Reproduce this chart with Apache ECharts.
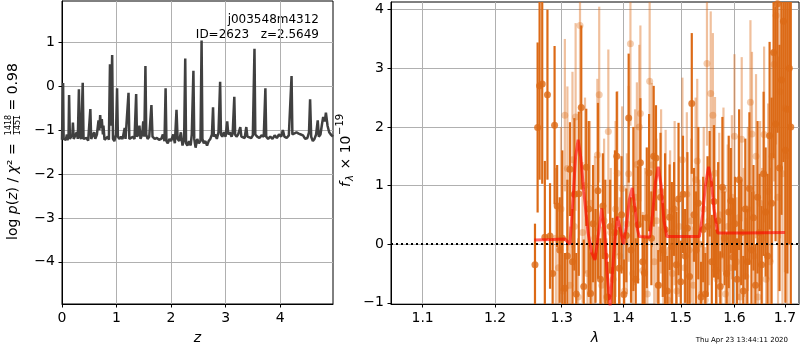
<!DOCTYPE html>
<html>
<head>
<meta charset="utf-8">
<script src="https://cdn.jsdelivr.net/npm/echarts@6/dist/echarts.min.js"></script>
<style>
  html, body { margin: 0; padding: 0; background: #fff; }
  #chart { width: 800px; height: 350px; }
</style>
</head>
<body>
<div id="chart"></div>
<script>
// ---- data ----
const zTicks = [0, 1, 2, 3, 4];
const pzTicks = [-4, -3, -2, -1, 0, 1];
const waveTicks = [1.1, 1.2, 1.3, 1.4, 1.5, 1.6, 1.7];
const fluxTicks = [-1, 0, 1, 2, 3, 4];

// [z, log p(z)]
const pzCurve = [
  [0.00,-1.22],[0.01,-0.5],[0.02,0.07],[0.03,-1.2],[0.05,-1.24],[0.07,-1.22],[0.09,-1.1],[0.10,-1.23],
  [0.12,-1.15],[0.13,-0.2],[0.145,-1.2],[0.17,-1.22],[0.19,-1.1],[0.20,-0.83],[0.215,-1.2],[0.24,-1.24],
  [0.27,-1.05],[0.29,-1.2],[0.31,-0.07],[0.325,-1.15],[0.35,-1.2],[0.38,0.08],[0.395,-1.2],[0.42,-1.24],
  [0.45,-1.18],[0.48,-1.24],[0.52,-0.52],[0.535,-1.2],[0.56,-1.24],[0.59,-1.05],[0.61,-1.2],[0.64,-1.1],
  [0.67,-0.78],[0.685,-1.0],[0.70,-0.66],[0.715,-0.95],[0.73,-0.75],[0.75,-1.1],[0.76,-0.9],[0.78,-1.22],
  [0.81,-1.2],[0.84,-1.15],[0.86,-1.22],[0.88,0.5],[0.895,-0.9],[0.92,0.71],[0.935,-1.2],[0.96,-1.25],
  [0.99,-1.1],[1.01,-0.05],[1.025,-1.15],[1.05,-1.2],[1.08,-1.15],[1.11,-1.2],[1.15,-0.95],[1.165,-1.2],
  [1.20,-1.18],[1.22,-0.15],[1.235,-1.2],[1.27,-1.18],[1.30,-1.15],[1.33,-1.2],[1.36,-0.18],[1.375,-1.15],
  [1.40,-1.1],[1.42,-0.9],[1.44,-1.2],[1.47,-1.1],[1.49,-0.8],[1.51,-1.15],[1.53,0.46],[1.545,-1.1],
  [1.57,-1.2],[1.60,-1.15],[1.64,-0.43],[1.66,-1.15],[1.70,-1.2],[1.74,-1.18],[1.78,-1.22],[1.82,-1.2],
  [1.85,-1.1],[1.88,-1.25],[1.90,-0.05],[1.915,-1.25],[1.94,-1.3],[1.97,-1.2],[2.00,-1.25],[2.04,-1.1],
  [2.07,-1.3],[2.10,-0.54],[2.12,-1.2],[2.15,-1.25],[2.18,-1.05],[2.21,-1.35],[2.24,-1.2],[2.26,0.63],
  [2.275,-1.3],[2.30,-1.35],[2.33,-1.25],[2.36,-1.35],[2.38,-1.1],[2.41,0.35],[2.425,-1.2],[2.45,-1.4],
  [2.48,-1.2],[2.51,-1.3],[2.54,-1.25],[2.56,1.04],[2.575,-1.2],[2.60,-1.3],[2.63,-1.25],[2.66,-1.35],
  [2.69,-1.25],[2.72,-1.2],[2.75,-1.1],[2.77,-0.48],[2.785,-1.15],[2.81,-1.1],[2.84,-1.2],[2.87,-1.05],
  [2.90,0.10],[2.915,-1.1],[2.94,-1.15],[2.97,-1.05],[3.00,-1.15],[3.03,-0.8],[3.05,-1.1],[3.08,-1.05],
  [3.11,-1.15],[3.13,-1.08],[3.16,-0.24],[3.175,-1.1],[3.20,-1.15],[3.23,-1.1],[3.27,-0.93],[3.29,-1.15],
  [3.32,-1.12],[3.35,-1.18],[3.38,-0.93],[3.40,-1.15],[3.43,-1.12],[3.47,-1.18],[3.50,-1.12],[3.53,0.85],
  [3.545,-1.1],[3.58,-1.15],[3.62,-1.18],[3.66,-1.12],[3.70,-1.15],[3.73,-0.05],[3.745,-1.15],[3.78,-1.2],
  [3.82,-1.15],[3.86,-1.2],[3.90,-1.12],[3.94,-1.18],[3.98,-1.1],[4.02,-1.15],[4.05,-1.0],[4.08,-1.15],
  [4.12,-1.18],[4.16,-1.12],[4.19,-1.1],[4.21,0.23],[4.225,-1.1],[4.26,-1.12],[4.30,-1.05],[4.34,-1.08],
  [4.38,-1.1],[4.42,-1.12],[4.46,-1.2],[4.50,-1.18],[4.53,-1.05],[4.55,-0.3],[4.57,-1.15],[4.60,-1.25],
  [4.63,-1.2],[4.66,-1.1],[4.69,-0.78],[4.71,-1.15],[4.74,-1.1],[4.77,-0.85],[4.79,-0.7],[4.82,-0.8],
  [4.84,-0.6],[4.87,-0.9],[4.90,-1.05],[4.93,-1.1],[4.97,-1.15]
];

// [wavelength, flux, error] - darker beam
const darkPoints = [
  [1.259,-0.35,0.70],[1.263,1.99,1.45],[1.266,2.70,1.60],[1.270,2.73,1.70],[1.274,0.12,1.30],[1.278,2.55,1.45],
  [1.282,0.14,0.90],[1.286,-0.50,0.60],[1.289,2.03,1.35],[1.293,0.65,0.70],[1.297,-0.10,0.90],[1.301,0.10,1.50],
  [1.305,-0.75,0.60],[1.309,-0.20,1.30],[1.313,1.28,0.80],[1.317,-0.30,0.90],[1.320,0.85,1.30],[1.323,-0.85,0.70],
  [1.327,0.86,1.40],[1.331,2.33,1.40],[1.335,-0.72,0.80],[1.339,1.31,1.00],[1.343,0.60,1.50],[1.346,-0.84,0.70],
  [1.350,0.35,1.00],[1.354,-0.20,0.80],[1.358,0.91,1.50],[1.362,-0.60,0.70],[1.366,0.65,0.90],[1.370,-0.20,1.30],
  [1.374,-0.90,0.60],[1.378,0.30,0.80],[1.382,-0.45,0.90],[1.386,0.20,1.40],[1.389,1.50,1.10],[1.393,-0.41,0.70],
  [1.397,0.50,1.00],[1.401,-0.86,0.60],[1.405,0.15,0.80],[1.409,2.15,1.10],[1.413,-0.10,0.90],[1.417,0.60,1.40],
  [1.421,-0.60,0.70],[1.425,0.33,1.00],[1.429,1.39,1.10],[1.433,-0.30,0.80],[1.436,-0.49,0.60],[1.440,0.45,1.20],
  [1.444,1.22,1.00],[1.448,0.10,0.80],[1.452,1.50,1.20],[1.456,1.47,0.90],[1.460,-0.70,0.60],[1.464,0.80,1.10],
  [1.468,-0.10,0.80],[1.472,0.25,1.30],[1.476,-0.80,0.60],[1.480,0.46,0.90],[1.484,-0.04,1.10],[1.488,0.60,0.80],
  [1.492,-0.35,0.90],[1.496,0.77,1.30],[1.500,-0.64,0.70],[1.504,0.85,1.00],[1.508,-0.20,0.80],[1.512,0.27,1.30],
  [1.516,-0.55,0.70],[1.520,2.40,1.20],[1.524,0.50,0.80],[1.528,-0.10,1.00],[1.532,0.70,1.30],[1.537,-0.90,0.60],
  [1.541,0.25,0.90],[1.545,-0.85,0.70],[1.549,0.30,1.20],[1.553,1.03,0.90],[1.557,-0.30,0.80],[1.561,0.73,1.30],
  [1.565,-0.45,0.70],[1.569,0.40,1.00],[1.573,-0.72,0.60],[1.577,0.97,1.20],[1.581,0.10,0.80],[1.585,-0.50,0.70],
  [1.589,0.55,1.30],[1.593,0.74,0.90],[1.597,-0.22,1.00],[1.601,0.35,0.80],[1.605,-0.60,0.70],[1.609,1.10,1.20],
  [1.613,0.20,0.90],[1.617,-0.80,0.60],[1.621,0.60,1.20],[1.625,-0.30,0.90],[1.629,0.95,1.30],[1.633,-0.10,1.00],
  [1.637,0.45,0.90],[1.641,-0.70,0.70],[1.645,0.80,1.30],[1.649,0.20,1.00],[1.653,-0.35,1.00],[1.657,1.20,1.40],
  [1.661,0.55,1.10],[1.665,-0.20,1.40],[1.669,1.85,1.60],[1.673,0.70,1.80],[1.677,3.27,1.80],[1.681,2.05,2.00],
  [1.685,4.10,2.20],[1.689,1.30,2.10],[1.693,2.80,2.30],[1.697,3.80,2.40],[1.701,1.60,2.60],[1.705,2.30,2.80],
  [1.709,3.00,3.00],[1.712,2.00,3.20]
];

// [wavelength, flux, error] - lighter beam
const lightPoints = [
  [1.291,0.10,1.20],[1.295,-0.40,1.00],[1.299,0.60,1.40],[1.302,-0.80,0.90],[1.305,2.20,1.30],[1.309,1.29,1.40],
  [1.313,-0.70,1.00],[1.317,1.44,1.50],[1.320,0.30,1.10],[1.322,2.17,1.60],[1.326,-0.90,1.00],[1.329,3.73,1.50],
  [1.333,0.20,1.20],[1.337,1.00,1.50],[1.341,-0.50,1.00],[1.345,0.70,1.40],[1.349,-0.20,1.20],[1.353,0.10,1.40],
  [1.357,1.52,1.30],[1.360,2.55,1.50],[1.364,-0.70,1.00],[1.368,0.40,1.40],[1.372,-0.90,1.00],[1.375,1.92,1.40],
  [1.379,0.20,1.10],[1.383,-0.60,1.00],[1.387,0.60,1.50],[1.390,1.21,1.40],[1.394,-0.20,1.00],[1.398,0.95,1.40],
  [1.402,-0.80,1.00],[1.406,0.35,1.20],[1.409,1.20,1.50],[1.412,3.42,1.40],[1.416,-0.50,1.00],[1.420,0.80,1.50],
  [1.423,1.36,1.40],[1.427,2.00,1.40],[1.429,2.23,1.50],[1.433,-0.45,1.00],[1.437,0.10,1.20],[1.441,-0.85,1.00],
  [1.445,2.78,1.50],[1.449,1.35,1.40],[1.453,-0.30,1.00],[1.457,0.40,1.40],[1.461,-0.70,1.00],[1.465,0.90,1.40],
  [1.469,-0.15,1.10],[1.473,0.55,1.40],[1.477,-0.95,0.90],[1.481,0.20,1.40],[1.485,-0.50,1.00],[1.489,0.70,1.40],
  [1.493,-0.80,1.00],[1.497,0.30,1.20],[1.503,1.44,1.40],[1.507,-0.40,1.00],[1.511,0.85,1.40],[1.515,-0.10,1.10],
  [1.519,0.40,1.40],[1.523,-0.70,1.00],[1.527,1.10,1.40],[1.530,1.42,1.40],[1.534,0.00,1.10],[1.538,-0.85,0.90],
  [1.542,0.60,1.40],[1.545,-0.95,0.90],[1.548,3.08,1.40],[1.552,0.40,1.10],[1.555,2.57,1.40],[1.559,2.20,1.40],
  [1.563,1.21,1.30],[1.567,-0.60,1.00],[1.571,0.50,1.40],[1.575,-0.20,1.10],[1.579,0.93,1.40],[1.583,-0.85,0.90],
  [1.587,0.30,1.40],[1.591,-0.40,1.00],[1.595,0.80,1.40],[1.600,1.84,1.40],[1.604,-0.30,1.10],[1.608,0.45,1.40],
  [1.611,-0.90,0.90],[1.614,1.79,1.40],[1.618,0.20,1.10],[1.622,-0.55,1.00],[1.626,0.60,1.40],[1.631,2.42,1.40],
  [1.634,1.88,1.40],[1.638,-0.20,1.10],[1.642,1.50,1.40],[1.646,-0.90,1.00],[1.650,0.70,1.40],[1.654,0.10,1.20],
  [1.658,1.87,1.50],[1.662,-0.60,1.20],[1.666,0.90,1.50],[1.670,-0.30,1.60],[1.674,1.50,1.80],[1.678,3.07,2.00],
  [1.682,3.90,2.20],[1.686,0.80,2.40],[1.690,2.60,2.50],[1.695,1.20,2.60],[1.700,2.32,2.80],[1.705,1.50,3.00]
];

// [wavelength, model flux]
const modelCurve = [
  [1.258,0.07],[1.285,0.08],[1.305,0.09],[1.313,0.0],[1.318,0.8],[1.322,1.5],[1.326,1.78],[1.330,1.5],
  [1.335,0.9],[1.342,0.19],[1.348,-0.15],[1.353,-0.27],[1.358,0.1],[1.364,0.61],[1.369,0.2],[1.373,-0.5],
  [1.378,-1.05],[1.383,-0.3],[1.387,0.2],[1.390,0.47],[1.394,0.3],[1.400,0.0],[1.405,0.3],[1.410,0.75],
  [1.415,0.96],[1.420,0.6],[1.424,0.25],[1.427,0.13],[1.445,0.12],[1.450,0.5],[1.455,1.05],[1.460,1.32],
  [1.465,1.0],[1.470,0.4],[1.475,0.13],[1.534,0.13],[1.540,0.5],[1.545,1.0],[1.551,1.32],[1.556,1.1],
  [1.561,0.6],[1.568,0.19],[1.620,0.19],[1.700,0.2]
];

const FONT = '"DejaVu Sans"';
const DARK = '#dc6a16';
const LIGHT = 'rgba(220,106,22,0.42)';
const FLUX_MIN = -1.02, FLUX_MAX = 4.13;

const chart = echarts.init(document.getElementById('chart'), null, { renderer: 'canvas' });

const minus = v => String(v).replace('-', '\u2212');

function axisBits(ticks) {
  return {
    axisLine: { show: true, onZero: false, lineStyle: { color: '#000', width: 1 } },
    axisTick: { show: true, customValues: ticks, length: 3.5, lineStyle: { color: '#000', width: 1 } },
    axisLabel: { customValues: ticks, margin: 7, color: '#000', fontSize: 14, fontFamily: FONT, formatter: minus },
    splitLine: { show: true, lineStyle: { color: '#b0b0b0', width: 1 } }
  };
}

// error bars drawn through the axis scales
function errorBars(color) {
  return function (params, api) {
    const x = api.value(0), y = api.value(1), e = api.value(2);
    const top = api.coord([x, Math.min(y + e, FLUX_MAX)]);
    const bot = api.coord([x, Math.max(y - e, FLUX_MIN)]);
    return {
      type: 'rect',
      shape: { x: top[0] - 1.1, y: top[1], width: 2.2, height: bot[1] - top[1] },
      style: { fill: color }
    };
  };
}

const option = {
  animation: false,
  grid: [
    { left: 62, top: 1, width: 271, height: 303, show: true, borderColor: '#000', borderWidth: 1, outerBoundsMode: 'none' },
    { left: 391, top: 2, width: 408, height: 302, show: true, borderColor: '#000', borderWidth: 1, outerBoundsMode: 'none' }
  ],
  xAxis: [
    Object.assign({
      type: 'value', gridIndex: 0, min: 0, max: 4.97,
      name: 'z', nameLocation: 'middle', nameGap: 27,
      nameTextStyle: { fontStyle: 'italic', fontSize: 14, fontFamily: FONT, color: '#000' }
    }, axisBits(zTicks)),
    Object.assign({
      type: 'log', logBase: 10, gridIndex: 1, min: 1.059, max: 1.729,
      name: '\u03bb', nameLocation: 'middle', nameGap: 27,
      nameTextStyle: { fontStyle: 'italic', fontSize: 14, fontFamily: FONT, color: '#000' }
    }, axisBits(waveTicks))
  ],
  yAxis: [
    Object.assign({ type: 'value', gridIndex: 0, min: -4.96, max: 1.94 }, axisBits(pzTicks)),
    Object.assign({ type: 'value', gridIndex: 1, min: FLUX_MIN, max: FLUX_MAX }, axisBits(fluxTicks))
  ],
  series: [
    {
      type: 'line', xAxisIndex: 0, yAxisIndex: 0, data: pzCurve,
      showSymbol: false, symbol: 'none',
      lineStyle: { color: '#404040', width: 2.5 }, z: 3
    },
    {
      type: 'custom', xAxisIndex: 1, yAxisIndex: 1, data: lightPoints,
      encode: { x: 0, y: 1 }, renderItem: errorBars(LIGHT), z: 2
    },
    {
      type: 'scatter', xAxisIndex: 1, yAxisIndex: 1, data: lightPoints,
      symbolSize: 7, itemStyle: { color: LIGHT }, z: 3
    },
    {
      type: 'custom', xAxisIndex: 1, yAxisIndex: 1, data: darkPoints,
      encode: { x: 0, y: 1 }, renderItem: errorBars(DARK), z: 4
    },
    {
      type: 'scatter', xAxisIndex: 1, yAxisIndex: 1, data: darkPoints,
      symbolSize: 7, itemStyle: { color: DARK }, z: 5
    },
    {
      type: 'line', xAxisIndex: 1, yAxisIndex: 1, data: modelCurve,
      showSymbol: false, symbol: 'none',
      lineStyle: { color: 'rgba(255,0,0,0.6)', width: 3 }, z: 6,
      markLine: {
        silent: true, symbol: 'none', label: { show: false },
        lineStyle: { color: '#000', type: [2, 3], width: 2 },
        data: [{ yAxis: 0 }]
      }
    }
  ],
  graphic: [
    {
      type: 'group', x: 13, y: 240, rotation: Math.PI / 2,
      children: [
        {
          type: 'text', x: 0, y: 0,
          style: {
            text: '{n|log }{i|p}{n|(}{i|z}{n|) / }{i|\u03c7}{n|\u00b2 =}',
            rich: {
              n: { font: '14px ' + FONT, fill: '#000' },
              i: { font: 'italic 14px ' + FONT, fill: '#000' }
            },
            align: 'left', verticalAlign: 'middle'
          }
        },
        { type: 'text', x: 115, y: -4.5, style: { text: '1418', font: '8px ' + FONT, fill: '#000', align: 'center', verticalAlign: 'middle' } },
        { type: 'rect', shape: { x: 107, y: 0, width: 17, height: 0.8 }, style: { fill: '#000' } },
        { type: 'text', x: 115, y: 5, style: { text: '1451', font: '8px ' + FONT, fill: '#000', align: 'center', verticalAlign: 'middle' } },
        { type: 'text', x: 125, y: 0, style: { text: ' = 0.98', font: '14px ' + FONT, fill: '#000', align: 'left', verticalAlign: 'middle' } }
      ]
    },
    {
      type: 'group', x: 346, y: 187, rotation: Math.PI / 2,
      children: [
        { type: 'text', x: 0, y: 0, style: { text: 'f', font: 'italic 14px ' + FONT, fill: '#000', align: 'left', verticalAlign: 'middle' } },
        { type: 'text', x: 6, y: 4, style: { text: '\u03bb', font: 'italic 10px ' + FONT, fill: '#000', align: 'left', verticalAlign: 'middle' } },
        { type: 'text', x: 13, y: 0, style: { text: ' \u00d7 10', font: '14px ' + FONT, fill: '#000', align: 'left', verticalAlign: 'middle' } },
        { type: 'text', x: 52, y: -6, style: { text: '\u221219', font: '10px ' + FONT, fill: '#000', align: 'left', verticalAlign: 'middle' } }
      ]
    },
    { type: 'text', x: 319, y: 20, style: { text: 'j003548m4312', font: '12px ' + FONT, fill: '#000', align: 'right', verticalAlign: 'middle' } },
    { type: 'text', x: 319, y: 34.5, style: { text: 'ID=2623   z=2.5649', font: '12px ' + FONT, fill: '#000', align: 'right', verticalAlign: 'middle' } },
    { type: 'text', x: 788, y: 340, style: { text: 'Thu Apr 23 13:44:11 2020', font: '7px ' + FONT, fill: '#000', align: 'right', verticalAlign: 'middle' } }
  ]
};

chart.setOption(option);
</script>
</body>
</html>
